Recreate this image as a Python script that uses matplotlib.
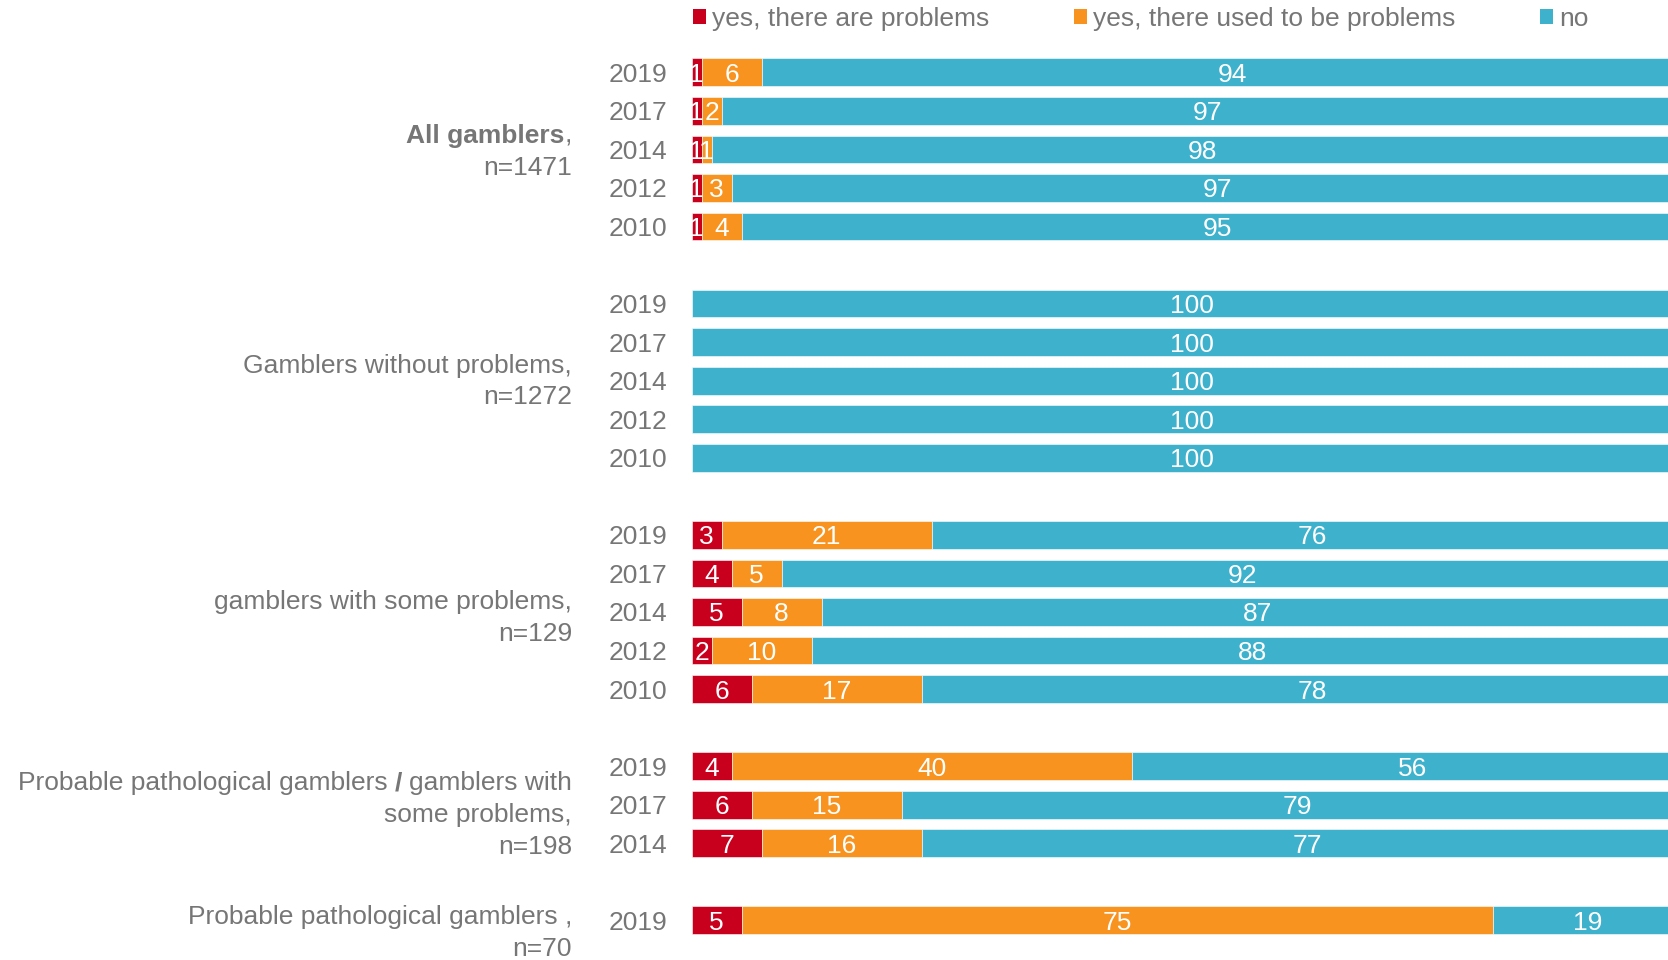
import matplotlib
matplotlib.use("Agg")
import matplotlib.pyplot as plt
from matplotlib import transforms

plt.rcParams['font.family'] = ['Liberation Sans', 'DejaVu Sans']

# ---- data ----
series_names = ["yes, there are problems", "yes, there used to be problems", "no"]
group_sizes = [5, 5, 5, 3, 1]
years = ["2019", "2017", "2014", "2012", "2010",
         "2019", "2017", "2014", "2012", "2010",
         "2019", "2017", "2014", "2012", "2010",
         "2019", "2017", "2014",
         "2019"]
red = [1, 1, 1, 1, 1,
       0, 0, 0, 0, 0,
       3, 4, 5, 2, 6,
       4, 6, 7,
       5]
orange = [6, 2, 1, 3, 4,
          0, 0, 0, 0, 0,
          21, 5, 8, 10, 17,
          40, 15, 16,
          75]
blue = [94, 97, 98, 97, 95,
        100, 100, 100, 100, 100,
        76, 92, 87, 88, 78,
        56, 79, 77,
        19]

colors = ["#C8001E", "#F7931E", "#3EB1CD"]
gray = "#767676"
FS = 19

W, H = 1668, 960
fig = plt.figure(figsize=(W / 100, H / 100), dpi=100)
ax_left = 691.5 / W
ax = fig.add_axes([ax_left, 0, 1 - ax_left, 1])

# row positions: one empty slot between groups
pos = []
p = 0
for g in group_sizes:
    for i in range(g):
        pos.append(p)
        p += 1
    p += 1

left = [0] * len(pos)
for vals, col, name in zip([red, orange, blue], colors, series_names):
    bars = ax.barh(pos, vals, left=left, height=0.72, color=col, label=name,
                   edgecolor='white', linewidth=0.4)
    for b, v in zip(bars, vals):
        if v > 0:
            ax.text(b.get_x() + b.get_width() / 2, b.get_y() + b.get_height() / 2,
                    f"{v}", ha='center', va='center_baseline', color='white',
                    fontsize=FS)
    left = [l + v for l, v in zip(left, vals)]

ax.set_xlim(0, 97.5)
ax.set_ylim(23.03, -1.876)
ax.set_yticks(pos)
ax.set_yticklabels(years, fontsize=FS, color=gray, va='center_baseline')
ax.tick_params(axis='y', length=0, pad=17.5)
ax.set_xticks([])
for s in ax.spines.values():
    s.set_visible(False)

# group labels
trans = transforms.blended_transform_factory(fig.transFigure, ax.transData)
lx = 572 / W

def plain(y, s):
    return ax.text(lx, y, s, transform=trans, ha='right', va='center_baseline',
                   fontsize=FS, color=gray)

# All gamblers (bold) ,
comma = plain(1.575, ",")
ax.annotate("All gamblers", xy=(0, 0), xycoords=comma, ha='right', va='bottom',
            fontsize=FS, color=gray, fontweight='bold')
plain(2.405, "n=1471")

plain(7.545, "Gamblers without problems,")
plain(8.37, "n=1272")

plain(13.67, "gamblers with some problems,")
plain(14.5, "n=129")

t1 = plain(18.38, "gamblers with")
sl = ax.annotate("/", xy=(0, 0), xycoords=t1, xytext=(-5.2, 0),
                 textcoords='offset points', ha='right', va='bottom',
                 fontsize=FS, color=gray, fontweight='bold')
ax.annotate("Probable pathological gamblers", xy=(0, 0), xycoords=sl,
            xytext=(-5.2, 0), textcoords='offset points', ha='right',
            va='bottom', fontsize=FS, color=gray)
plain(19.21, "some problems,")
plain(20.04, "n=198")

plain(21.86, "Probable pathological gamblers ,")
plain(22.69, "n=70")

leg = ax.legend(loc='center left', bbox_to_anchor=(693 / W, 1 - 19 / H),
                bbox_transform=fig.transFigure, ncol=3, frameon=False,
                fontsize=FS, handlelength=0.49, handleheight=0.49,
                handletextpad=0.24, columnspacing=3.2, borderpad=0,
                borderaxespad=0)
for t in leg.get_texts():
    t.set_color(gray)
for h in leg.legend_handles:
    h.set_linewidth(0)

fig.savefig("out.png", dpi=100)
